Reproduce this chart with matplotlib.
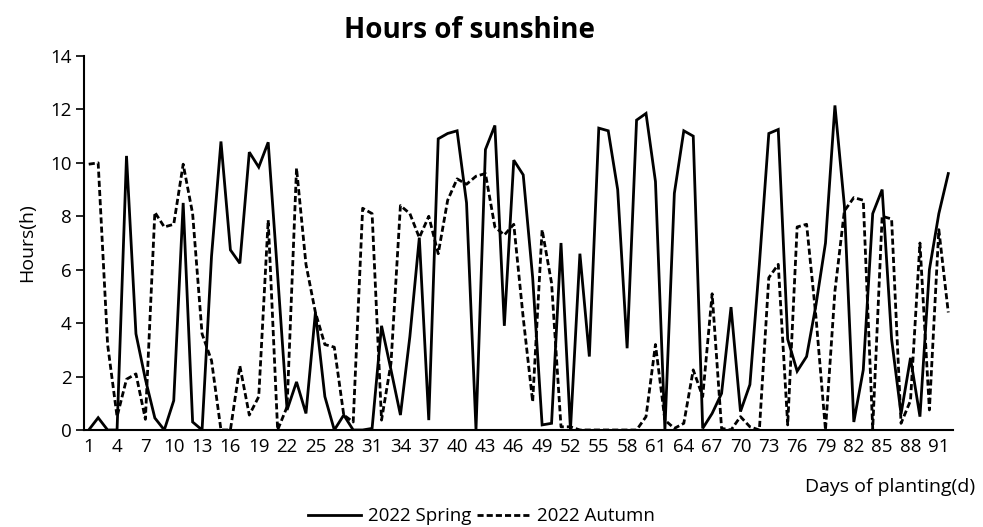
import matplotlib.pyplot as plt
from matplotlib.lines import Line2D

days = list(range(1, 93))
spring = [0.0, 0.46, 0.0, 0.0, 10.26, 3.6, 1.9, 0.45, 0.0, 1.1,
          8.5, 0.3, 0.0, 6.5, 10.8, 6.74, 6.24, 10.4, 9.84, 10.77,
          5.8, 0.75, 1.8, 0.62, 4.4, 1.25, 0.0, 0.56, 0.0, 0.0,
          0.06, 3.9, 2.25, 0.56, 3.5, 7.2, 0.37, 10.9, 11.1, 11.2,
          8.5, 0.0, 10.5, 11.4, 3.9, 10.1, 9.55, 5.7, 0.19, 0.25,
          7.0, 0.0, 6.6, 2.75, 11.3, 11.2, 9.0, 3.06, 11.6, 11.85,
          9.3, 0.0, 8.86, 11.2, 11.0, 0.06, 0.62, 1.37, 4.6, 0.69,
          1.7, 6.2, 11.1, 11.25, 3.4, 2.2, 2.75, 4.7, 7.0, 12.15,
          8.4, 0.3, 2.25, 8.1, 9.0, 3.4, 0.6, 2.7, 0.5, 6.0,
          8.1, 9.6]
autumn = [9.95, 10.0, 3.2, 0.5, 1.9, 2.1, 0.4, 8.15, 7.6, 7.7,
          9.95, 8.1, 3.6, 2.6, 0.0, 0.0, 2.4, 0.56, 1.25, 7.86,
          0.0, 0.87, 9.8, 6.2, 4.4, 3.2, 3.1, 0.56, 0.3, 8.3,
          8.1, 0.37, 2.5, 8.4, 8.1, 7.2, 8.0, 6.6, 8.6, 9.4,
          9.2, 9.5, 9.6, 7.6, 7.3, 7.7, 4.2, 1.06, 7.5, 5.5,
          0.12, 0.12, 0.0, 0.0, 0.0, 0.0, 0.0, 0.0, 0.0, 0.5,
          3.2, 0.37, 0.06, 0.25, 2.25, 1.25, 5.1, 0.06, 0.0, 0.5,
          0.12, 0.0, 5.7, 6.2, 0.19, 7.6, 7.7, 4.2, 0.0, 5.2,
          8.2, 8.7, 8.6, 0.06, 8.0, 7.9, 0.25, 1.1, 7.0, 0.75,
          7.5, 4.4]
xticks = list(range(1, 92, 3))

plt.rcParams['font.family'] = ['Open Sans', 'DejaVu Sans']
DASH = (0, (2.2, 1.1))

fig = plt.figure(figsize=(9.83, 5.27), dpi=100)
ax = fig.add_axes([84 / 983, 97 / 527, 869 / 983, 374 / 527])
ax.plot(days, spring, color='black', lw=2.0, solid_joinstyle='miter')
ax.plot(days, autumn, color='black', lw=2.0, ls=DASH)

ax.set_xlim(0.5, 92.5)
ax.set_ylim(0, 14)
ax.set_yticks(range(0, 15, 2))
ax.set_xticks(xticks)
ax.tick_params(axis='x', length=0, pad=6, labelsize=13.5)
ax.tick_params(axis='y', length=6, width=1.2, labelsize=13.5, pad=3)
for s in ['top', 'right']:
    ax.spines[s].set_visible(False)
for s in ['left', 'bottom']:
    ax.spines[s].set_linewidth(1.5)

ax.set_ylabel('Hours(h)', fontsize=14, labelpad=10)
fig.text(0.992, 0.076, 'Days of planting(d)', ha='right', va='center',
         fontsize=14)
fig.text(0.478, 0.942, 'Hours of sunshine', ha='center', va='center',
         fontsize=20, fontweight='bold')

handles = [Line2D([], [], color='black', lw=2.0),
           Line2D([], [], color='black', lw=2.0, ls=DASH)]
fig.legend(handles, ['2022 Spring', '2022 Autumn'], loc='center',
           bbox_to_anchor=(0.49, 0.02), ncol=2, frameon=False, fontsize=13.5,
           handlelength=2.8, columnspacing=0.3, handletextpad=0.4)

fig.savefig('out.png', dpi=100)
